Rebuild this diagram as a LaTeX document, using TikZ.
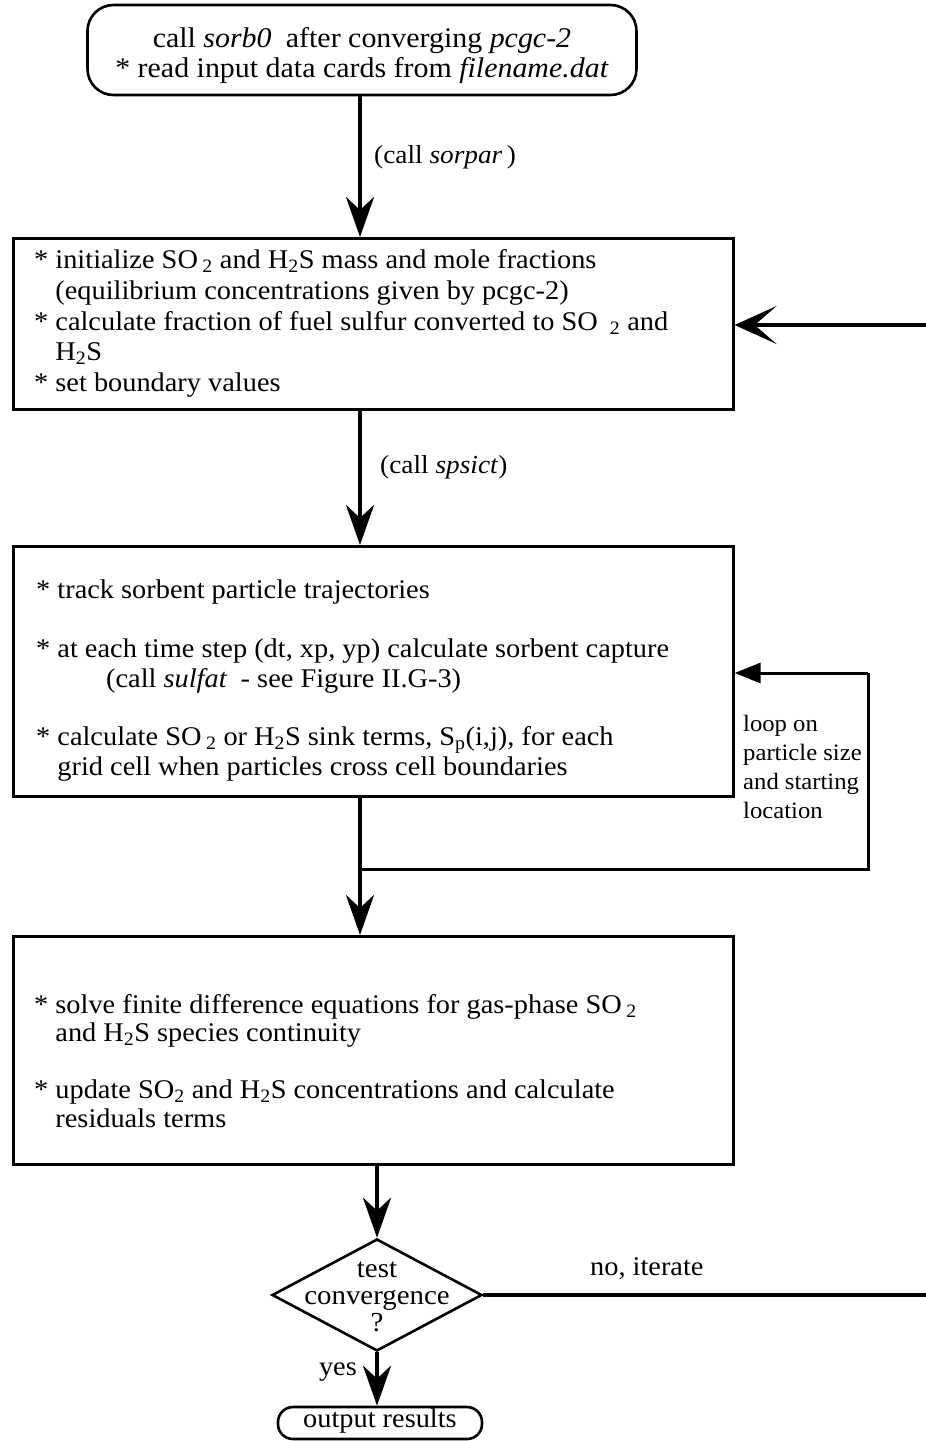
\documentclass[tikz,border=0pt]{standalone}
\usepackage{fontspec}
\setmainfont{Liberation Serif}[FakeStretch=1.05]
\usetikzlibrary{arrows.meta,shapes.geometric}
\begin{document}
\begin{tikzpicture}[x=1pt,y=-1pt,
  box/.style={draw,line width=2.6pt,anchor=north west,minimum width=720pt,inner sep=0pt},
  boxtxt/.style={anchor=base west,align=left,inner sep=0pt},
  term/.style={draw,line width=2.6pt,inner sep=0pt},
  flow/.style={line width=4.8pt,-{Stealth[length=40pt,width=28pt,inset=13pt]}},
  loopline/.style={line width=3pt},
  looparrow/.style={line width=3pt,-{Triangle[length=26pt,width=20pt]}},
  backarrow/.style={line width=4.8pt,-{Stealth[length=42pt,width=38pt,inset=22pt]}},
  lab/.style={font=\fontsize{26}{30}\selectfont,anchor=west,inner sep=0pt}]
\useasboundingbox (0,0) rectangle (926,1441);

% start terminal
\node[term,rounded corners=26pt,minimum width=549pt,minimum height=90pt] (start) at (362,50) {};
\node[align=center,inner sep=0pt,font=\fontsize{28.5}{30}\selectfont] (starttxt) at (362,55)
  {call \textit{sorb0}\enspace after converging \textit{pcgc-2}\\ {*} read input data cards from \textit{filename.dat}};

% box 2 (anchor = baseline of last line)
\node[box,minimum height=171pt] (init) at (12,237) {};
\node[boxtxt,font=\fontsize{27}{30.7}\selectfont] (inittxt) at (34,391.5)
  {{*} initialize SO\,\textsubscript{2} and H\textsubscript{2}S mass and mole fractions\\
   \hphantom{*~}(equilibrium concentrations given by pcgc-2)\\
   {*} calculate fraction of fuel sulfur converted to SO\;\,\textsubscript{2} and\\
   \hphantom{*~}H\textsubscript{2}S\\
   {*} set boundary values};

% box 3
\node[box,minimum height=250pt] (track) at (12,545) {};
\node[boxtxt,font=\fontsize{27}{29.6}\selectfont] (tracktxt) at (36,775.5)
  {{*} track sorbent particle trajectories\\[30pt]
   {*} at each time step (dt, xp, yp) calculate sorbent capture\\
   \hspace*{70pt}(call \textit{sulfat}\enspace - see Figure II.G-3)\\[29pt]
   {*} calculate SO\,\textsubscript{2} or H\textsubscript{2}S sink terms, S\textsubscript{p}(i,j), for each\\
   \hphantom{*~}grid cell when particles cross cell boundaries};

% box 4
\node[box,minimum height=228pt] (solve) at (12,935) {};
\node[boxtxt,font=\fontsize{27}{28.6}\selectfont] (solvetxt) at (34,1127.5)
  {{*} solve finite difference equations for gas-phase SO\,\textsubscript{2}\\
   \hphantom{*~}and H\textsubscript{2}S species continuity\\[28.5pt]
   {*} update SO\textsubscript{2} and H\textsubscript{2}S concentrations and calculate\\
   \hphantom{*~}residuals terms};

% decision
\node[diamond,draw,line width=2.6pt,inner sep=0pt,minimum width=210pt,minimum height=112pt] (test) at (377,1295) {};
\node[align=center,inner sep=0pt,font=\fontsize{27.5}{27}\selectfont] (testtxt) at (377,1297)
  {test\\convergence\\?};

% end terminal
\node[term,rounded corners=15pt,minimum width=204pt,minimum height=32pt] (out) at (380,1423) {};
\node[inner sep=0pt,font=\fontsize{27}{30}\selectfont] (outtxt) at (380,1421) {output results};

% coordinates
\coordinate (axis) at (360,0);
\coordinate (loopA) at (360,869);
\coordinate (loopB) at (868,869);
\coordinate (loopC) at (868,673);
\coordinate (rightA) at (926,1295);
\coordinate (rightB) at (926,325);

% connectors
\draw[flow] (start.south -| axis) -- (axis |- init.north);
\node[lab] (l1) at (374,157) {(call \textit{sorpar}\,)};
\draw[flow] (init.south -| axis) -- (axis |- track.north);
\node[lab] (l2) at (380,467) {(call \textit{spsict})};
\draw[flow] (track.south -| axis) -- (axis |- solve.north);
\draw[loopline] (loopA) -- (loopB) -- (loopC);
\draw[looparrow] (loopC) -- (track.east |- loopC);
\node[align=left,anchor=base west,inner sep=0pt,font=\fontsize{23.5}{29}\selectfont] (l3) at (743,818)
  {loop on\\particle size\\and starting\\location};
\draw[flow] (solve.south -| test.north) -- (test.north);
\draw[line width=4.8pt] (test.east) -- (rightA);
\node[lab,font=\fontsize{27}{30}\selectfont] (l4) at (590,1269) {no, iterate};
\draw[backarrow] (rightB) -- (init.east |- rightB);
\draw[flow] (test.south) -- (test.south |- out.north);
\node[lab,anchor=east,font=\fontsize{27}{30}\selectfont] (l5) at (357,1372) {yes};
\end{tikzpicture}
\end{document}
